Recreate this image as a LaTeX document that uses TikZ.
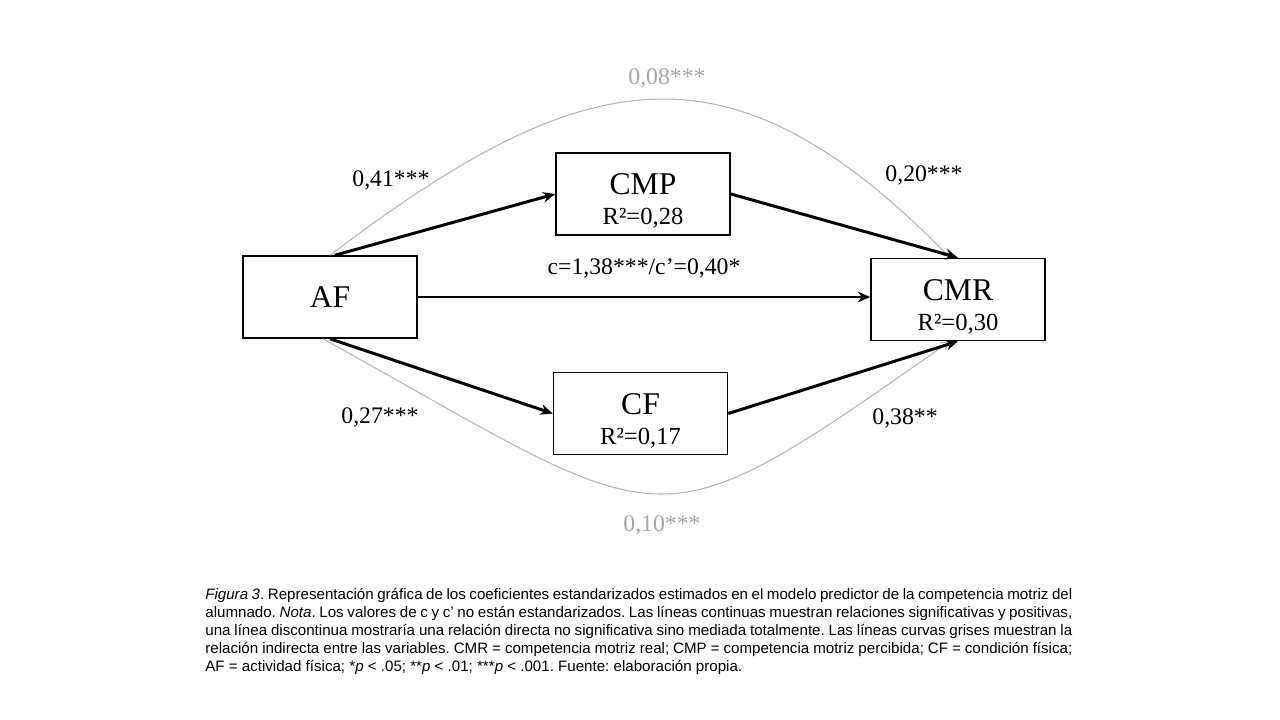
\documentclass[tikz,border=0pt]{standalone}
\usepackage{fontspec}
\setmainfont{Liberation Serif}
\newfontfamily\arialfont{Liberation Sans}
\usetikzlibrary{arrows.meta}

\definecolor{gris}{HTML}{B4B4B4}
\definecolor{grisTexto}{HTML}{A6A6A6}

% nombre de la variable y su R2
\newcommand{\variable}[2]{\rule{0pt}{20pt}#1\\[-1pt]{\fontsize{14}{14}\selectfont R²=#2}}

\begin{document}
\begin{tikzpicture}[
    x=0.2mm, y=-0.2mm,
    every node/.style={inner sep=0pt}
  ]

  \tikzset{
    caja/.style={draw=black, line width=0.9pt, minimum width=34.8mm, minimum height=16.4mm, align=center, font=\fontsize{18}{18}\selectfont},
    flecha/.style={-{Stealth[length=7pt, width=6pt]}, line width=1.7pt},
    curva/.style={-{Straight Barb[length=4.5pt, width=5pt]}, draw=gris, line width=0.6pt},
    coef/.style={font=\fontsize{13.5}{13.5}\selectfont},
    coefgris/.style={coef, text=grisTexto}
  }

  \useasboundingbox (0,0) rectangle (1280,720);

  % Variables
  \node[caja] (AF) at (330,297) {AF};
  \node[caja] (CMP) at (643,194) {\variable{CMP}{0,28}};
  \node[caja] (CF) at (640.5,413.5) {\variable{CF}{0,17}};
  \node[caja] (CMR) at (958,299.5) {\variable{CMR}{0,30}};

  % Relaciones indirectas (curvas grises)
  \draw[curva] (AF.north) .. controls (585,62) and (730,32) .. ([xshift=-1.6mm]CMR.north);
  \draw[curva] ([xshift=-1.4mm]AF.south) .. controls (677,535) and (645,555) .. ([xshift=-1.6mm]CMR.south);

  % Relaciones directas
  \draw[flecha] ([xshift=1mm]AF.north) -- (CMP.west);
  \draw[flecha] (CMP.east) -- (CMR.north);
  \draw[flecha] (AF.east) -- (AF.east -| CMR.west);
  \draw[flecha] (AF.south) -- (CF.west);
  \draw[flecha] (CF.east) -- (CMR.south);

  % Coeficientes
  \node[coef] (cAFCMP) at (391,180) {0,41***};
  \node[coef] (cCMPCMR) at (924,175) {0,20***};
  \node[coef] (cAFCMR) at (644,268) {c=1,38***/c’=0,40*};
  \node[coef] (cAFCF) at (380,417) {0,27***};
  \node[coef] (cCFCMR) at (905,418) {0,38**};
  \node[coefgris] (cSup) at (667,78) {0,08***};
  \node[coefgris] (cInf) at (662,525) {0,10***};

  % Pie de figura
  \node[anchor=north west, text width=173.4mm, align=justify, font=\arialfont\fontsize{8.6}{10.24}\selectfont\frenchspacing] (pie) at (205,588) {%
    \textit{Figura 3}. Representación gráfica de los coeficientes estandarizados estimados en el modelo predictor de la competencia motriz del\linebreak
    alumnado. \textit{Nota}. Los valores de c y c’ no están estandarizados. Las líneas continuas muestran relaciones significativas y positivas,\linebreak
    una línea discontinua mostraría una relación directa no significativa sino mediada totalmente. Las líneas curvas grises muestran la\linebreak
    relación indirecta entre las variables. CMR = competencia motriz real; CMP = competencia motriz percibida; CF = condición física;\linebreak
    AF = actividad física; *\textit{p} < .05; **\textit{p} < .01; ***\textit{p} < .001. Fuente: elaboración propia.};

\end{tikzpicture}
\end{document}
